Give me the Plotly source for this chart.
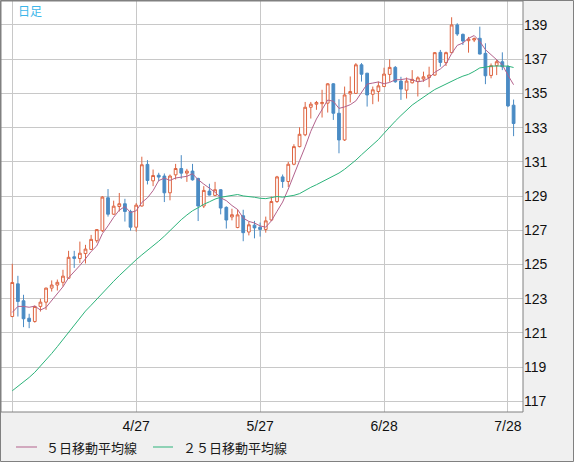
import pandas as pd
import plotly.graph_objects as go

# daily candles, 2022-03-28 .. 2022-07-29 (business days)
dates = [d.strftime("%Y-%m-%d") for d in pd.bdate_range("2022-03-28", "2022-07-29")]

open_ = [121.96, 123.87, 122.88, 121.86, 121.67, 122.55, 122.80, 123.62, 123.80, 123.96,
         124.20, 125.45, 125.35, 125.64, 125.88, 126.39, 126.98, 128.90, 127.94, 128.39,
         128.55, 128.10, 127.18, 128.42, 130.85, 129.89, 130.22, 130.17, 129.19, 130.24,
         130.61, 130.34, 130.46, 130.03, 128.42, 129.29, 129.04, 129.37, 128.34, 127.78,
         127.16, 127.85, 126.90, 127.30, 127.18, 127.05, 127.60, 128.68, 130.12, 129.85,
         130.86, 131.89, 132.58, 134.19, 134.37, 134.40, 134.43, 135.56, 133.84, 132.28,
         134.97, 135.00, 136.67, 136.18, 134.95, 135.11, 135.40, 136.11, 136.52, 135.72,
         135.19, 135.62, 135.70, 135.84, 135.93, 136.07, 137.40, 136.80, 137.38, 139.00,
         138.45, 138.08, 138.12, 138.22, 137.34, 136.05, 136.62, 136.85, 136.56, 134.31]
high = [125.04, 124.34, 123.23, 122.12, 122.60, 123.00, 123.65, 124.07, 124.12, 124.69,
        125.80, 125.80, 126.34, 126.15, 126.73, 127.06, 129.00, 129.41, 128.73, 129.18,
        128.84, 128.20, 128.59, 131.30, 131.10, 130.55, 130.36, 130.32, 130.26, 130.88,
        131.39, 130.59, 130.88, 130.07, 129.58, 129.72, 129.83, 129.40, 128.40, 128.26,
        128.22, 128.20, 127.50, 127.55, 127.45, 127.80, 128.97, 130.18, 130.26, 131.00,
        132.03, 133.02, 134.50, 134.50, 134.56, 135.21, 135.60, 135.60, 134.66, 135.40,
        135.99, 136.77, 136.77, 136.20, 135.40, 135.69, 136.50, 136.99, 136.60, 135.97,
        135.93, 136.36, 136.00, 136.27, 136.56, 137.42, 137.54, 137.44, 139.45, 139.10,
        138.50, 138.30, 138.27, 138.90, 137.93, 136.75, 136.95, 137.40, 136.65, 134.64]
low = [121.92, 121.96, 121.34, 121.28, 121.60, 122.25, 122.35, 123.42, 123.48, 123.71,
       124.16, 124.80, 125.08, 125.06, 125.85, 126.27, 126.90, 127.80, 127.90, 128.10,
       127.51, 126.98, 126.92, 128.38, 129.68, 129.58, 129.87, 128.65, 128.75, 129.97,
       130.01, 129.83, 129.90, 127.54, 128.30, 129.04, 128.99, 127.93, 127.10, 127.58,
       127.12, 126.36, 126.70, 126.53, 126.63, 126.86, 127.55, 128.60, 129.48, 129.53,
       130.80, 131.85, 132.50, 133.53, 134.04, 133.59, 133.88, 133.45, 131.50, 132.22,
       134.47, 134.97, 135.69, 134.23, 134.37, 134.52, 135.38, 135.68, 135.62, 134.62,
       134.70, 135.58, 134.82, 135.68, 135.36, 136.03, 136.56, 136.60, 137.35, 138.36,
       137.83, 137.38, 138.00, 137.28, 135.54, 135.88, 136.07, 136.36, 134.20, 132.50]
close = [123.95, 122.84, 121.83, 121.67, 122.55, 122.80, 123.62, 123.80, 123.96, 124.32,
         125.42, 125.36, 125.66, 125.90, 126.47, 127.04, 128.94, 127.94, 128.41, 128.55,
         128.10, 127.18, 128.47, 130.83, 129.91, 130.20, 130.11, 129.19, 130.17, 130.61,
         130.34, 130.46, 129.95, 128.42, 129.33, 129.06, 129.37, 128.30, 127.60, 127.91,
         127.90, 126.86, 127.32, 127.14, 127.05, 127.55, 128.68, 130.12, 129.85, 130.86,
         131.89, 132.61, 134.19, 134.37, 134.47, 134.47, 135.56, 133.84, 132.28, 134.91,
         135.11, 136.67, 136.12, 134.91, 135.21, 135.44, 136.13, 136.52, 135.68, 135.25,
         135.72, 135.82, 135.91, 135.97, 136.07, 137.38, 136.81, 137.38, 139.00, 138.47,
         138.06, 138.18, 138.20, 137.30, 136.03, 136.62, 136.85, 136.56, 134.27, 133.24]

# moving-average values before enough closes are on the chart
ma5_head = [122.20, 122.55, 122.55, 122.50]
ma25_head = [117.62, 117.88, 118.12, 118.40, 118.70, 119.05, 119.42, 119.80, 120.20, 120.62,
             121.05, 121.50, 121.90, 122.28, 122.62, 122.98, 123.34, 123.70, 124.02, 124.35,
             124.68, 124.98, 125.28, 125.56]

tick_dates = ["2022-03-28", "2022-04-27", "2022-05-27", "2022-06-28", "2022-07-28"]
tick_labels = ["", "4/27", "5/27", "6/28", "7/28"]
y_ticks = list(range(117, 140, 2))

s = pd.Series(close)
ma5 = s.rolling(5).mean().tolist()
ma5[:4] = ma5_head
ma25 = s.rolling(25).mean().tolist()
ma25[:24] = ma25_head

RED = "#de6440"
BLUE = "#4a8bc4"
PINK = "#b3628c"
GREEN = "#2cb37a"
GRID = "#c8c8c8"
EDGE = "#808080"
JP = "Noto Sans CJK JP"

fig = go.Figure()
fig.add_trace(go.Candlestick(
    x=dates, open=open_, high=high, low=low, close=close,
    increasing=dict(line=dict(color=RED, width=1), fillcolor="white"),
    decreasing=dict(line=dict(color=BLUE, width=1), fillcolor=BLUE),
    whiskerwidth=0, showlegend=False, hoverinfo="skip"))
fig.add_trace(go.Scatter(x=dates, y=ma5, mode="lines", line=dict(color=PINK, width=1),
                         showlegend=False, hoverinfo="skip"))
fig.add_trace(go.Scatter(x=dates, y=ma25, mode="lines", line=dict(color=GREEN, width=1),
                         showlegend=False, hoverinfo="skip"))

W, H = 574, 462
L, R, T, B = 1, 51, 1, 50
pw, ph = W - L - R, H - T - B


def px(x):
    return (x - L) / pw


def py(y):
    return (H - B - y) / ph


shapes = [
    dict(type="rect", xref="paper", yref="paper", x0=0, x1=1, y0=0, y1=1,
         line=dict(color=EDGE, width=1)),
    dict(type="rect", xref="paper", yref="paper", x0=px(0.5), x1=px(W - 0.5),
         y0=py(H - 0.5), y1=py(0.5), line=dict(color=EDGE, width=1)),
    dict(type="line", xref="paper", yref="paper", x0=px(16), x1=px(37), y0=py(447), y1=py(447),
         line=dict(color=PINK, width=1)),
    dict(type="line", xref="paper", yref="paper", x0=px(153), x1=px(173), y0=py(447), y1=py(447),
         line=dict(color=GREEN, width=1)),
]
annotations = [
    dict(text="日足", xref="paper", yref="paper", x=px(16), y=py(11), xanchor="left",
         yanchor="middle", showarrow=False, font=dict(family=JP, size=12, color="#3cb6ea")),
    dict(text="５日移動平均線", xref="paper", yref="paper", x=px(44), y=py(447), xanchor="left",
         yanchor="middle", showarrow=False, font=dict(family=JP, size=13, color="#1a1a1a")),
    dict(text="２５日移動平均線", xref="paper", yref="paper", x=px(181), y=py(447), xanchor="left",
         yanchor="middle", showarrow=False, font=dict(family=JP, size=13, color="#1a1a1a")),
]

fig.update_layout(
    width=W, height=H, autosize=False,
    margin=dict(l=L, r=R, t=T, b=B, pad=0),
    paper_bgcolor="#f0f0f0", plot_bgcolor="white",
    shapes=shapes, annotations=annotations,
    xaxis=dict(type="category", range=[-2.0, 90.67], tickvals=tick_dates, ticktext=tick_labels,
               showgrid=True, gridcolor=GRID, gridwidth=1, ticks="", showline=False,
               zeroline=False, rangeslider=dict(visible=False), automargin=False,
               ticklabelstandoff=4,
               tickfont=dict(family="Liberation Sans", size=14, color="#111111")),
    yaxis=dict(side="right", range=[116.38, 140.40], tickvals=y_ticks, showgrid=True,
               gridcolor=GRID, gridwidth=1, ticks="", showline=False, zeroline=False,
               automargin=False,
               tickfont=dict(family="Liberation Sans", size=14, color="#111111")),
)

# page body has an 8px margin by default; drop it so the figure sits at the window corner
fig.write_html("out.html", config={"displayModeBar": False},
               post_script="document.body.style.margin='0';")
